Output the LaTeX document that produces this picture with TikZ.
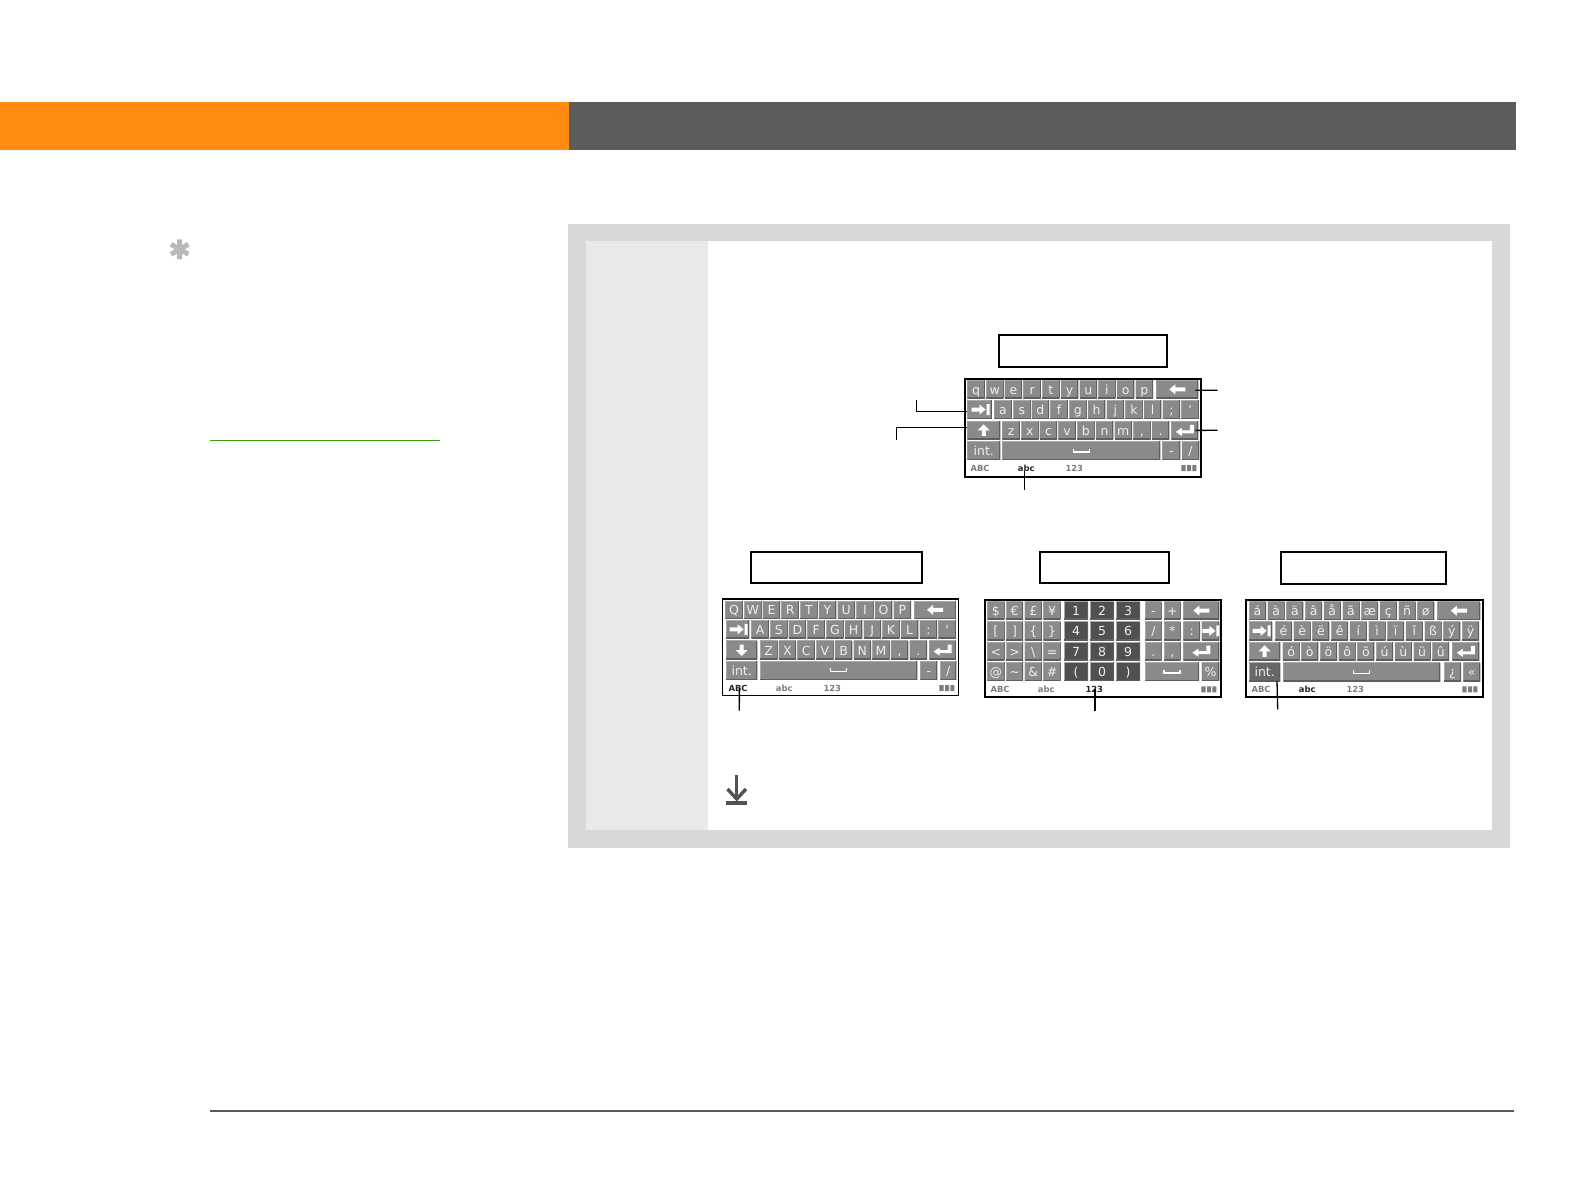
\documentclass[tikz,border=0pt]{standalone}
\usepackage{fontspec}
\setmainfont{DejaVu Sans}
\definecolor{orangebar}{HTML}{FF8A12}
\definecolor{darkbar}{HTML}{5C5C5C}
\definecolor{panelout}{HTML}{D8D8D8}
\definecolor{panelin}{HTML}{E9E9E9}
\definecolor{keyfill}{HTML}{8A8A8A}
\definecolor{keydark}{HTML}{505050}
\definecolor{keymid}{HTML}{686868}
\definecolor{keyedgeD}{HTML}{5E5E5E}
\definecolor{keyedgeL}{HTML}{A8A8A8}
\definecolor{keytext}{HTML}{EFEFEF}
\definecolor{tabgray}{HTML}{7C7C7C}
\definecolor{linkgreen}{HTML}{3C9A14}
\tikzset{
  keybox/.style={fill=keyfill,text=keytext,inner sep=0pt,outer sep=0pt,align=center,
    font=\fontsize{12.5}{13}\selectfont,text height=10pt,text depth=0pt,
    path picture={
      \draw[keyedgeL,line width=1pt] (path picture bounding box.south west) -- (path picture bounding box.north west) -- (path picture bounding box.north east);
      \draw[keyedgeD,line width=2pt] (path picture bounding box.south west) -- (path picture bounding box.south east) -- (path picture bounding box.north east);
    }},
  numkey/.style={fill=keydark},
  intkey/.style={fill=keymid},
  plainkey/.style={},
  framebox/.style={draw=black,fill=white,line width=2pt},
  titlebox/.style={draw=black,fill=white,line width=2pt,inner sep=0pt,outer sep=0pt},
  modeoff/.style={font=\fontsize{8.4}{9}\selectfont\bfseries,text=tabgray,inner sep=0pt,outer sep=0pt,text height=6pt,text depth=0pt},
  modeon/.style={modeoff,text=black!85},
  callout/.style={draw=black,line width=1.3pt},
  icon/.style={fill=white,draw=none}
}
% #1 name, #2 x1, #3 x2, #4 y1, #5 y2 (local), #6 style, #7 label
\newcommand\onekey[7]{%
  \pgfmathsetmacro\kxa{\ox+#2}\pgfmathsetmacro\kya{\oy+#4}%
  \pgfmathsetmacro\kw{#3-#2}\pgfmathsetmacro\kh{#5-#4}%
  \node[keybox,#6,anchor=north west,minimum width=\kw pt,minimum height=\kh pt] (#1) at (\kxa,\kya) {#7};%
}
% #1 prefix, #2 x0, #3 pitch, #4 width, #5 y1, #6 y2, #7 style, #8 labels
\newcommand\keyrow[8]{%
  \foreach \lab [count=\n] in {#8}{%
    \pgfmathsetmacro\rxa{#2+(\n-1)*#3}\pgfmathsetmacro\rxb{\rxa+#4}%
    \onekey{#1c\n}{\rxa}{\rxb}{#5}{#6}{#7}{\lab}%
  }%
}
\newcommand\icback[1]{\fill[icon,shift={(#1.center)}] (-8,0)--(-2,-5)--(-2,-2)--(8,-2)--(8,2)--(-2,2)--(-2,5)--cycle;}
\newcommand\ictab[1]{\fill[icon,shift={(#1.center)}] (-8,-2)--(0,-2)--(0,-5)--(6,0)--(0,5)--(0,2)--(-8,2)--cycle (7,-5.5) rectangle (10,5.5);}
\newcommand\icup[1]{\fill[icon,shift={(#1.center)}] (0,-6)--(6,0)--(2,0)--(2,5.5)--(-2,5.5)--(-2,0)--(-6,0)--cycle;}
\newcommand\icdown[1]{\fill[icon,shift={(#1.center)}] (0,6)--(6,0)--(2,0)--(2,-5.5)--(-2,-5.5)--(-2,0)--(-6,0)--cycle;}
\newcommand\icenter[1]{\fill[icon,shift={(#1.center)}] (-9,1.5)--(-3,-2.5)--(-3,0)--(5,0)--(5,-5.5)--(9,-5.5)--(9,3)--(-3,3)--(-3,5.5)--cycle;}
\newcommand\icspace[1]{\draw[white,line width=1.2pt,shift={(#1.center)}] (-8,-2)--(-8,1.5)--(8,1.5)--(8,-2);}
% status strip of a keyboard: #1 prefix, #2 style ABC, #3 style abc, #4 style 123
\newcommand\modestrip[4]{%
  \pgfmathsetmacro\sy{\oy+89.3}\pgfmathsetmacro\sa{\ox+15.8}\pgfmathsetmacro\sb{\ox+62}\pgfmathsetmacro\sc{\ox+110}%
  \node[#2] (#1abcU) at (\sa,\sy) {ABC};
  \node[#3] (#1abcL) at (\sb,\sy) {abc};
  \node[#4] (#1num) at (\sc,\sy) {123};
  \pgfmathsetmacro\sd{\ox+217}\pgfmathsetmacro\se{\sd+4.4}\pgfmathsetmacro\sf{\se+1.4}\pgfmathsetmacro\sg{\sf+4}\pgfmathsetmacro\sh{\sg+1.2}\pgfmathsetmacro\si{\sh+4}%
  \pgfmathsetmacro\sj{\sy-3}\pgfmathsetmacro\sk{\sy+3}%
  \fill[tabgray] (\sd,\sj) rectangle (\se,\sk) (\sf,\sj) rectangle (\sg,\sk) (\sh,\sj) rectangle (\si,\sk);
}
\begin{document}
\begin{tikzpicture}[x=1pt,y=-1pt]
\useasboundingbox (0,0) rectangle (1584,1190);
\fill[white] (0,0) rectangle (1584,1190);
% header bars
\fill[orangebar] (0,102) rectangle (569,150.5);
\fill[darkbar] (569,102) rectangle (1516,150.5);
% panel
\fill[panelout] (567.5,224.5) rectangle (1510,848);
\fill[white] (586,241.5) rectangle (1492,830);
\fill[panelin] (586,241.5) rectangle (708,830);
% side note
\draw[gray!55,line width=5pt] (179.7,239.3)--(179.7,259.3) (171,244.3)--(188.4,254.3) (171,254.3)--(188.4,244.3);
\draw[linkgreen,line width=1.4pt] (210,440.3) -- (440,440.3);
% footer rule
\draw[black!65,line width=1.4pt] (210,1111) -- (1513.5,1111);
% down arrow
\draw[black!68,line width=3.4pt] (736.7,775) -- (736.7,800);
\draw[black!68,line width=3.4pt] (727.5,789) -- (736.7,799) -- (746,789);
\draw[black!68,line width=3.6pt] (726,802.7) -- (747.3,802.7);
% title boxes
\draw[titlebox] (998.7,334.7) rectangle (1167.3,367);
\draw[titlebox] (750.7,552) rectangle (922.3,583);
\draw[titlebox] (1039.7,552) rectangle (1169.3,583);
\draw[titlebox] (1280.7,552) rectangle (1446,583.7);

% ---- keyboard 1: lower case
\def\ox{964.3}\def\oy{378.7}
\draw[framebox] (964.8,378.7) rectangle (1201.2,476.7);
\keyrow{kaa}{3}{18.7}{17.5}{1.7}{19.7}{plainkey}{q,w,e,r,t,y,u,i,o,p}
\onekey{kaback}{192}{234}{1.7}{19.7}{plainkey}{}
\onekey{katab}{3}{27.5}{21.7}{40}{plainkey}{}
\keyrow{kab}{30}{18.7}{17.5}{21.7}{40}{plainkey}{a,s,d,f,g,h,j,k,l,;,\textquotesingle}
\onekey{kashift}{3}{36}{42.7}{60.7}{plainkey}{}
\keyrow{kac}{38}{18.7}{17.5}{42.7}{60.7}{plainkey}{z,x,c,v,b,n,m,{,},.}
\onekey{kaenter}{207}{234}{42.7}{60.7}{plainkey}{}
\onekey{kaint}{3}{36}{62.7}{81}{plainkey}{int.}
\onekey{kaspace}{38}{196}{62.7}{81}{plainkey}{}
\onekey{kaminus}{198}{216}{62.7}{81}{plainkey}{-}
\onekey{kaslash}{217.5}{235}{62.7}{81}{plainkey}{/}
\icback{kaback}\ictab{katab}\icup{kashift}\icenter{kaenter}\icspace{kaspace}
\modestrip{ka}{modeoff}{modeon}{modeoff}

% ---- keyboard 2: upper case
\def\ox{722.3}\def\oy{598.7}
\draw[framebox,line width=1.2pt] (722.5,598.7) rectangle (958.8,695.3);
\draw[black,line width=2pt] (722.5,598.7) -- (958.8,598.7);
\keyrow{kba}{3}{18.7}{17.5}{2.3}{20}{plainkey}{Q,W,E,R,T,Y,U,I,O,P}
\onekey{kbback}{192}{233.5}{2.3}{20}{plainkey}{}
\onekey{kbtab}{3.7}{27}{21.5}{39.7}{plainkey}{}
\keyrow{kbb}{29}{18.7}{17.5}{21.5}{39.7}{plainkey}{A,S,D,F,G,H,J,K,L,:,\textquotesingle}
\onekey{kbshift}{3.7}{35}{42}{60.7}{plainkey}{}
\keyrow{kbc}{37.7}{18.7}{17.5}{42}{60.7}{plainkey}{Z,X,C,V,B,N,M,{,},.}
\onekey{kbenter}{207}{233.5}{42}{60.7}{plainkey}{}
\onekey{kbint}{3.7}{35}{62.3}{81}{plainkey}{int.}
\onekey{kbspace}{37.7}{195}{62.3}{81}{plainkey}{}
\onekey{kbminus}{198}{215}{62.3}{81}{plainkey}{-}
\onekey{kbslash}{217.7}{234}{62.3}{81}{plainkey}{/}
\icback{kbback}\ictab{kbtab}\icdown{kbshift}\icenter{kbenter}\icspace{kbspace}
\modestrip{kb}{modeon}{modeoff}{modeoff}

% ---- keyboard 3: numbers
\def\ox{984.3}\def\oy{600}
\draw[framebox] (984.8,600) rectangle (1221.2,696.7);
\keyrow{kca}{3}{18.7}{17.2}{1.7}{19.3}{plainkey}{\$,€,£,¥}
\keyrow{kcb}{3}{18.7}{17.2}{21.7}{40}{plainkey}{[,],\{,\}}
\keyrow{kcc}{3}{18.7}{17.2}{42.3}{60}{plainkey}{<,>,\textbackslash,=}
\keyrow{kcd}{3}{18.7}{17.2}{62.3}{80.7}{plainkey}{@,\textasciitilde,\&,\#}
\keyrow{kce}{79.7}{26}{24}{1.7}{19.3}{numkey}{1,2,3}
\keyrow{kcf}{79.7}{26}{24}{21.7}{40}{numkey}{4,5,6}
\keyrow{kcg}{79.7}{26}{24}{42.3}{60}{numkey}{7,8,9}
\keyrow{kch}{79.7}{26}{24}{62.3}{80.7}{numkey}{{(},0,{)}}
\keyrow{kci}{160.7}{19}{16.7}{1.7}{19.3}{plainkey}{-,+}
\onekey{kcback}{199}{235}{1.7}{19.3}{plainkey}{}
\keyrow{kcj}{160.7}{19}{16.7}{21.7}{40}{plainkey}{/,*}
\onekey{kccolon}{199}{215.7}{21.7}{40}{plainkey}{:}
\onekey{kctab}{217.3}{235}{21.7}{40}{plainkey}{}
\keyrow{kck}{160.7}{19}{16.7}{42.3}{60}{plainkey}{.,{,}}
\onekey{kcenter}{199}{235}{42.3}{60}{plainkey}{}
\onekey{kcspace}{160.7}{214.7}{62.3}{80.7}{plainkey}{}
\onekey{kcpct}{217.3}{235}{62.3}{80.7}{plainkey}{\%}
\icback{kcback}\icenter{kcenter}\icspace{kcspace}
\fill[icon,shift={(kctab.center)}] (-8,-2)--(-1,-2)--(-1,-5)--(5,0)--(-1,5)--(-1,2)--(-8,2)--cycle (6,-5.5) rectangle (8.5,5.5);
\modestrip{kc}{modeoff}{modeoff}{modeon}

% ---- keyboard 4: international
\def\ox{1245.3}\def\oy{600}
\draw[framebox] (1245.8,600) rectangle (1482.8,697.3);
\keyrow{kda}{3.7}{18.7}{17}{1.7}{19.7}{plainkey}{á,à,ä,â,å,ã,æ,ç,ñ,ø}
\onekey{kdback}{192}{235}{1.7}{19.7}{plainkey}{}
\onekey{kdtab}{3.7}{27}{21.7}{40}{plainkey}{}
\keyrow{kdb}{29.7}{18.7}{17}{21.7}{40}{plainkey}{é,è,ë,ê,í,ì,ï,î,ß,ý,ÿ}
\onekey{kdshift}{3.7}{35}{42.3}{60.3}{plainkey}{}
\keyrow{kdc}{37.3}{18.7}{17}{42.3}{60.3}{plainkey}{ó,ò,ö,ô,õ,ú,ù,ü,û}
\onekey{kdenter}{207}{234}{42.3}{60.3}{plainkey}{}
\onekey{kdint}{3.7}{35}{62.7}{81}{intkey}{int.}
\onekey{kdspace}{38}{195}{62.7}{81}{plainkey}{}
\onekey{kdquest}{198.7}{215.7}{62.7}{81}{plainkey}{¿}
\onekey{kdguil}{218}{235}{62.7}{81}{plainkey}{«}
\icback{kdback}\ictab{kdtab}\icup{kdshift}\icenter{kdenter}\icspace{kdspace}
\modestrip{kd}{modeoff}{modeon}{modeoff}

% ---- callouts
\coordinate (endback) at (1217.7,390.3);
\coordinate (endenter) at (1217.7,430.3);
\coordinate (endtab) at (916.3,400);
\coordinate (endshift) at (896.3,439.7);
\coordinate (endabc) at (1024.3,490);
\coordinate (endABC) at (739.3,710.7);
\coordinate (endnum) at (1095,710.7);
\coordinate (endint) at (1277.7,709.3);
\draw[callout] ([xshift=-3pt,yshift=-0.9pt]kaback.east) -- (endback);
\draw[callout] ([xshift=-3pt]kaenter.east) -- (endenter);
\draw[callout] ([yshift=-1.7pt]katab.west) -| (endtab);
\draw[callout] ([yshift=3.1pt]kashift.west) -| (endshift);
\draw[callout] ([xshift=-2pt]kaabcL.south) -- (endabc);
\draw[callout] ([xshift=1.3pt]kbabcU.center) -- (endABC);
\draw[callout] ([xshift=0.7pt]kcnum.center) -- (endnum);
\draw[callout] ([xshift=-3.3pt]kdint.south east) -- (endint);
\end{tikzpicture}
\end{document}
